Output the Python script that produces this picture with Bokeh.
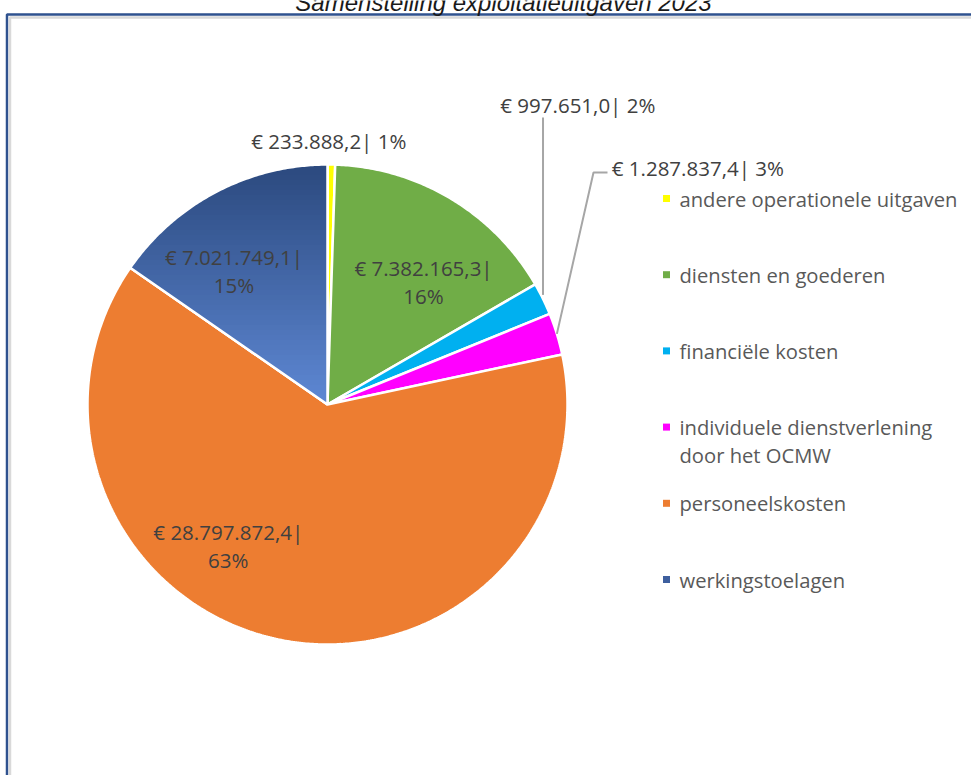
import numpy as np
from bokeh.plotting import figure
from bokeh.models import Range1d, ColumnDataSource
from bokeh.core.properties import value
from bokeh.embed import file_html
from bokeh.resources import INLINE

# ---------------- data ----------------
title = "Samenstelling exploitatieuitgaven 2023"
categories = ["andere operationele uitgaven", "diensten en goederen", "financiële kosten",
              "individuele dienstverlening door het OCMW", "personeelskosten", "werkingstoelagen"]
legend_lines = [["andere operationele uitgaven"], ["diensten en goederen"], ["financiële kosten"],
                ["individuele dienstverlening", "door het OCMW"], ["personeelskosten"], ["werkingstoelagen"]]
amounts = [233888.2, 7382165.3, 997651.0, 1287837.4, 28797872.4, 7021749.1]
colors = ["#FFFF00", "#70AD47", "#00B0F0", "#FF00FF", "#ED7D31", "#4A6DB0"]
grad_top, grad_bottom = "#2B497E", "#5E88D4"   # werkingstoelagen gradient

# ---------------- layout ----------------
W, H = 971, 775
def Y(ys):  # screen y -> data y
    return H - ys

cx, cy, R = 327.0, Y(404.0), 240.0
label_color = "#404040"
legend_color = "#595959"
FONT = "Open Sans"
FS_LAB = "20.5px"
FS_LEG = "20.2px"

# label placement per slice: ("in", angle_deg, dist) or ("out", x, y_screen)
label_mode = [("out", 331, 140), ("in", 38, 156), ("out", 580, 104),
              ("out", 700, 167), ("in", 215, 173), ("in", 325, 163)]

def fmt(v):
    s = f"{v:,.1f}"
    return s.replace(",", "X").replace(".", ",").replace("X", ".")

total = sum(amounts)
fracs = [a / total for a in amounts]
cum = np.concatenate([[0], np.cumsum(fracs)])
t0s = cum[:-1] * 2 * np.pi
t1s = cum[1:] * 2 * np.pi

p = figure(width=W, height=H, x_range=Range1d(0, W), y_range=Range1d(0, H),
           output_backend="svg", toolbar_location=None, min_border=0)
p.margin = (0, 0, 0, 0)
p.xaxis.visible = False
p.yaxis.visible = False
p.grid.visible = False
p.outline_line_color = None
p.background_fill_color = "white"
p.border_fill_color = "white"

def sector(t0, t1):
    n = max(4, int((t1 - t0) / (2 * np.pi) * 720))
    ts = np.linspace(t0, t1, n)
    xs = [cx] + list(cx + R * np.sin(ts))
    ys = [cy] + list(cy + R * np.cos(ts))
    return xs, ys

xs_all, ys_all = [], []
for t0, t1 in zip(t0s, t1s):
    xs, ys = sector(t0, t1)
    xs_all.append(xs)
    ys_all.append(ys)

src = ColumnDataSource(dict(xs=xs_all, ys=ys_all, color=colors, cat=categories))
p.patches("xs", "ys", fill_color="color", line_color="white", line_width=2.5, source=src)

# gradient on werkingstoelagen
def clip_half(pts, y0, above):
    out = []
    n = len(pts)
    for i in range(n):
        P = pts[i]; Q = pts[(i + 1) % n]
        inP = P[1] >= y0 if above else P[1] <= y0
        inQ = Q[1] >= y0 if above else Q[1] <= y0
        if inP:
            out.append(P)
        if inP != inQ:
            t = (y0 - P[1]) / (Q[1] - P[1])
            out.append((P[0] + t * (Q[0] - P[0]), y0))
    return out

def hex2rgb(h):
    return np.array([int(h[i:i + 2], 16) for i in (1, 3, 5)], dtype=float)

wi = 5
pts = list(zip(xs_all[wi], ys_all[wi]))
ymin, ymax = min(ys_all[wi]), max(ys_all[wi])
nb = 48
edges = np.linspace(ymin, ymax, nb + 1)
c_top, c_bot = hex2rgb(grad_top), hex2rgb(grad_bottom)
gx, gy, gc = [], [], []
for k in range(nb):
    lo, hi = edges[k] - 0.6, edges[k + 1] + 0.6
    poly = clip_half(clip_half(pts, lo, True), hi, False)
    if len(poly) < 3:
        continue
    f = (ymax - (edges[k] + edges[k + 1]) / 2) / (ymax - ymin)
    c = c_top + (c_bot - c_top) * f
    gx.append([q[0] for q in poly]); gy.append([q[1] for q in poly])
    gc.append("#%02x%02x%02x" % tuple(int(round(v)) for v in c))
p.patches(gx, gy, fill_color=gc, line_color=None)
p.patch(xs_all[wi], ys_all[wi], fill_color=None, line_color="white", line_width=2.5)

# data labels
pcts = [f"{round(f * 100):.0f}%" for f in fracs]
for i, (mode, a, b) in enumerate(label_mode):
    money = f"€ {fmt(amounts[i])}|"
    if mode == "in":
        ang = np.radians(a)
        lx = cx + b * np.sin(ang)
        ly = cy + b * np.cos(ang)
        p.text([lx, lx], [ly + 14, ly - 14], text=[money, pcts[i]], text_align="center",
               text_baseline="middle", text_font=value(FONT), text_font_size=FS_LAB,
               text_color=label_color)
    else:
        p.text([a], [Y(b)], text=[f"{money}  {pcts[i]}"], text_align="center",
               text_baseline="middle", text_font=value(FONT), text_font_size=FS_LAB,
               text_color=label_color)

# leader lines for small outside slices
def edge_point(i):
    m = (t0s[i] + t1s[i]) / 2
    return cx + R * np.sin(m), cy + R * np.cos(m)

ex, ey = edge_point(2)
p.line([ex, ex], [ey + 4, Y(117)], line_color="#A6A6A6", line_width=2)
ex, ey = edge_point(3)
p.line([ex, 593, 607], [ey, Y(172), Y(172)], line_color="#A6A6A6", line_width=2)

# legend
leg_x0, leg_y0, leg_step = 666, 198, 76.2
for i, lines in enumerate(legend_lines):
    yy = leg_y0 + i * leg_step
    p.rect([leg_x0], [Y(yy)], width=7, height=7, fill_color=colors[i] if i != wi else "#3E5F9E",
           line_color=None)
    for j, ln in enumerate(lines):
        p.text([leg_x0 + 13], [Y(yy + j * 28)], text=[ln], text_align="left",
               text_baseline="middle", text_font=value(FONT), text_font_size=FS_LEG,
               text_color=legend_color)

# frame
p.line([6.5, 6.5, W + 5], [Y(H + 10), Y(14), Y(14)], line_color="#2F528F", line_width=2.5)
p.line([9.5, 9.5, W + 5], [Y(H + 10), Y(17), Y(17)], line_color="#D9D9D9", line_width=2.5)

# title (cut at top of picture)
p.text([503], [Y(2)], text=[title], text_align="center", text_baseline="alphabetic",
       text_font=value("Liberation Sans"), text_font_style="italic", text_font_size="24px",
       text_color="#1a1a1a")

open("out.html", "w").write(file_html(p, INLINE))
